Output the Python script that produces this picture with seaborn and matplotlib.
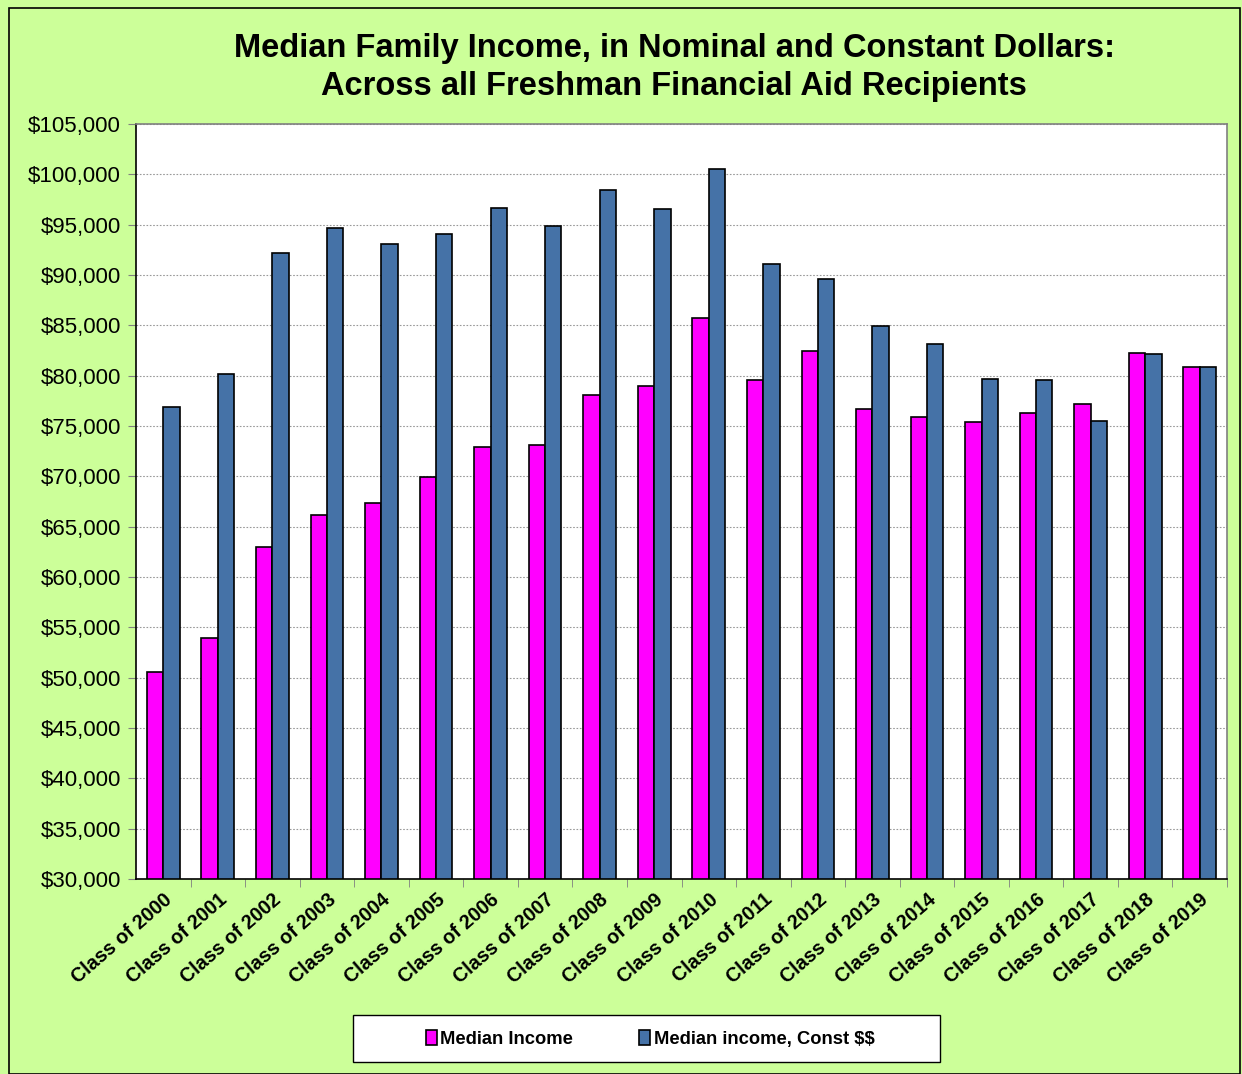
import pandas as pd
import matplotlib.pyplot as plt
import seaborn as sns
from matplotlib.ticker import FuncFormatter, MultipleLocator

classes = ['Class of %d' % y for y in range(2000, 2020)]
median_income = [50600, 53900, 63000, 66200, 67400, 69900, 72900, 73100, 78100, 79000,
                 85700, 79600, 82500, 76700, 75900, 75400, 76300, 77200, 82300, 80900]
median_const = [76900, 80200, 92200, 94700, 93100, 94100, 96700, 94900, 98400, 96600,
                100500, 91100, 89600, 84900, 83100, 79700, 79600, 75500, 82200, 80900]
series_names = ['Median Income', 'Median income, Const $$']

df = pd.DataFrame({
    'cls': classes * 2,
    'value': median_income + median_const,
    'series': [series_names[0]] * len(classes) + [series_names[1]] * len(classes),
})

sns.set_style('white')
plt.rcParams['font.family'] = ['Liberation Sans', 'DejaVu Sans']
plt.rcParams['text.parse_math'] = False  # "$$" in the legend label
plt.rcParams['text.color'] = 'black'
plt.rcParams['xtick.color'] = 'black'
plt.rcParams['ytick.color'] = 'black'

fig = plt.figure(figsize=(12.42, 10.74), dpi=100)
fig.patch.set_facecolor('#CCFF99')
ax = fig.add_axes([136 / 1242, 1 - 879 / 1074, (1227 - 136) / 1242, (879 - 124) / 1074])
ax.set_facecolor('white')

sns.barplot(data=df, x='cls', y='value', hue='series', ax=ax,
            palette=['#FF00FF', '#4572A7'], width=0.6, gap=0,
            edgecolor='black', linewidth=1.2, saturation=1)

ax.set_ylim(30000, 105000)
ax.yaxis.set_major_locator(MultipleLocator(5000))
ax.yaxis.set_major_formatter(FuncFormatter(lambda v, p: '${:,.0f}'.format(v)))
ax.grid(axis='y', color='#999999', linestyle=(0, (1.5, 1.5)), linewidth=0.8)
ax.set_axisbelow(True)
ax.set_xlim(-0.5, len(classes) - 0.5)
ax.set_xlabel('')
ax.set_ylabel('')
for s in ax.spines.values():
    s.set_color('#808080')
    s.set_linewidth(1.2)
ax.spines['left'].set_color('black')
ax.spines['bottom'].set_color('black')

ax.tick_params(axis='y', labelsize=16, length=6, color='#808080', left=True, pad=5,
               labelcolor='black')
ax.set_xticks([i + 0.5 for i in range(len(classes))], minor=True)
ax.set_xticks(range(len(classes)))
ax.set_xticklabels(classes, rotation=41, ha='right', rotation_mode='anchor',
                   fontsize=14.2, fontweight='bold', color='black')
ax.tick_params(axis='x', which='major', length=0, pad=8)
ax.tick_params(axis='x', which='minor', length=6, color='#808080', bottom=True)

fig.text(0.543, 1 - 48 / 1074, 'Median Family Income, in Nominal and Constant Dollars:',
         ha='center', va='center', fontsize=23.5, fontweight='bold')
fig.text(0.543, 1 - 86 / 1074, 'Across all Freshman Financial Aid Recipients',
         ha='center', va='center', fontsize=23.5, fontweight='bold')

# legend box is wider than its entries, so draw the frame separately
frame = plt.Rectangle((353 / 1242, 1 - 1062 / 1074), (940 - 353) / 1242, 47 / 1074,
                      transform=fig.transFigure, facecolor='white', edgecolor='black',
                      linewidth=1.0, zorder=1)
fig.patches.append(frame)

ax.legend_.remove()
handles, labels = ax.get_legend_handles_labels()
leg = fig.legend(handles, labels, loc='center', ncol=2,
                 bbox_to_anchor=(650 / 1242, 1 - 1039 / 1074),
                 frameon=False, prop={'size': 13.2, 'weight': 'bold'},
                 handlelength=0.6, handleheight=0.9, handletextpad=0.2,
                 columnspacing=3.6)

border = plt.Rectangle((9 / 1242, 0), 1 - 11 / 1242, 1 - 8 / 1074, transform=fig.transFigure,
                       fill=False, edgecolor='black', linewidth=1.2)
fig.patches.append(border)

fig.savefig('out.png', dpi=100, facecolor=fig.get_facecolor())
